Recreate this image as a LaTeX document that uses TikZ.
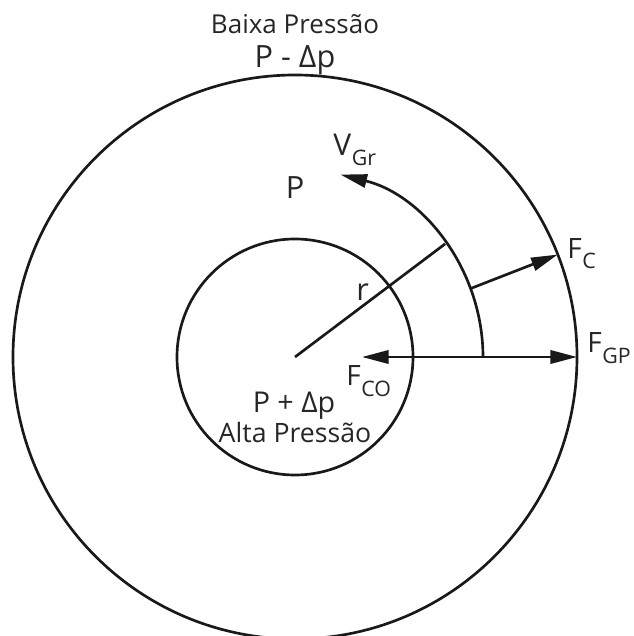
\documentclass[tikz,border=0pt]{standalone}
\usepackage{fontspec}
\setmainfont{Open Sans}
\usetikzlibrary{arrows.meta,calc}
\newcommand{\fsz}[1]{\fontsize{#1}{#1}\selectfont}
\newcommand{\mysub}[2]{\kern0.5pt\raisebox{-#1}{\fsz{16pt}#2}}
\begin{document}
\begin{tikzpicture}[x=0.75pt,y=0.75pt,
  ln/.style={line width=2pt,color=black!90},
  arr/.style={ln,-{Triangle[length=20pt,width=10pt]}},
  lbl/.style={inner sep=0pt,text=black!85}]
\useasboundingbox (0,0) rectangle (633,636);
\coordinate (c) at (295,279);
% circles
\draw[ln] (c) circle[radius=282];
\draw[ln] (c) circle[radius=118];
% key points
\coordinate (a0) at ($(c)+(0:188)$);
\coordinate (rend) at ($(c)+(37:188)$);
\coordinate (fcs) at ($(c)+(21.3:188)$);
\coordinate (fce) at ($(c)+(21.3:282)$);
\coordinate (fco) at (362,279);
\coordinate (fgp) at ($(c)+(0:282)$);
% radius
\draw[ln] (c) -- (rend);
% velocity arc
\draw[arr] (a0) arc[start angle=0,end angle=76,radius=188];
% forces
\draw[arr] (fcs) -- (fce);
\draw[arr] (a0) -- (fco);
\draw[arr] (a0) -- (fgp);
% labels
\node[lbl,anchor=base] (tb) at (295,602) {\fsz{19.5pt}Baixa Pressão};
\node[lbl,anchor=base] (tpm) at (295,568) {\fsz{23pt}P - Δp};
\node[lbl,anchor=base] (tp) at (295,437) {\fsz{23pt}P};
\node[lbl,anchor=base west] (tv) at (333,480) {\fsz{22.5pt}V\mysub{7.5pt}{Gr}};
\node[lbl,anchor=base west] (tr) at (356,335) {\fsz{23pt}r};
\node[lbl,anchor=base west] (tfco) at (346,250) {\fsz{21pt}F\mysub{8pt}{CO}};
\node[lbl,anchor=base] (tpp) at (294,223) {\fsz{21.5pt}P + Δp};
\node[lbl,anchor=base] (ta) at (295,193) {\fsz{20pt}Alta Pressão};
\node[lbl,anchor=base west] (tfc) at (567,377) {\fsz{21pt}F\mysub{7pt}{C}};
\node[lbl,anchor=base west] (tfgp) at (587,283) {\fsz{21pt}F\mysub{8pt}{GP}};
\end{tikzpicture}
\end{document}
